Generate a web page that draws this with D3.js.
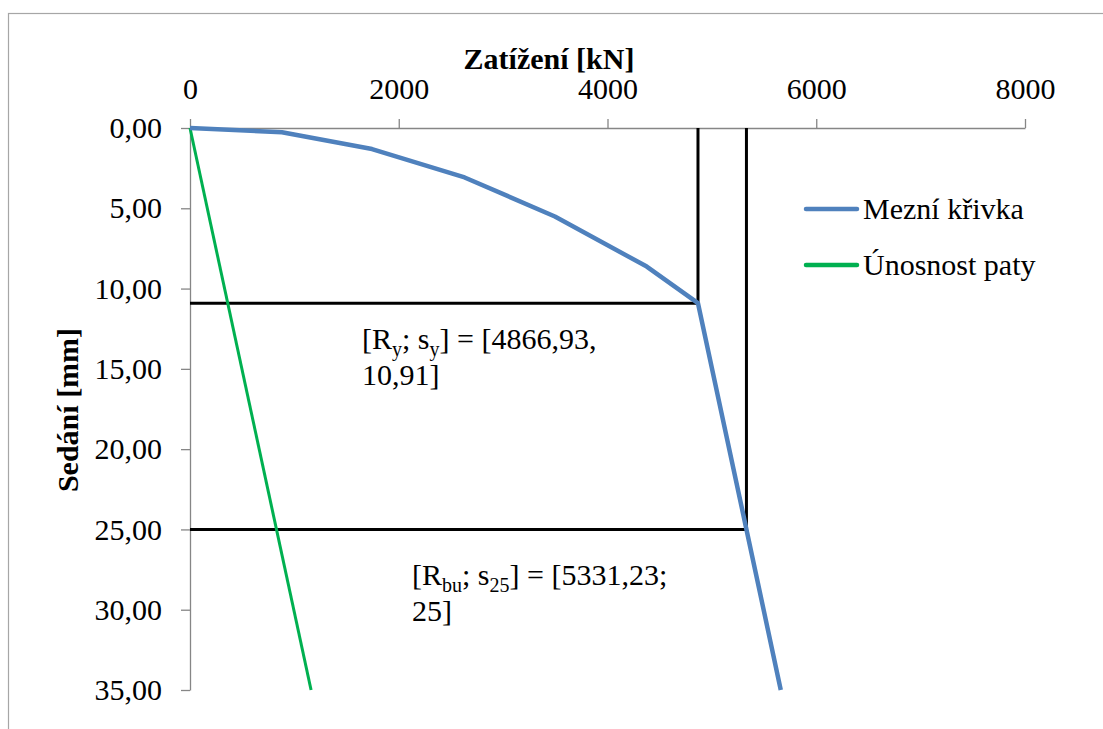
<!DOCTYPE html>
<html>
<head>
<meta charset="utf-8">
<script src="https://cdn.jsdelivr.net/npm/d3@7"></script>
</head>
<body style="margin:0; background:#fff">
<svg id="s" width="1103" height="729" style="font-family:'Times New Roman','Liberation Serif',Tinos,serif"></svg>
<script>
// Load–settlement data (load in kN, settlement in mm)
const mezniLoad   = [0, 881, 1744, 2631, 3496, 4376, 4866.93, 5331.23, 5660];
const mezniSettle = [0, 0.27, 1.31, 3.08, 5.51, 8.63, 10.91, 25, 35];
const pataLoad    = [0, 1160];
const pataSettle  = [0, 35];

// Characteristic points
const yieldPoint    = { R: 4866.93, s: 10.91 };
const ultimatePoint = { R: 5331.23, s: 25 };

const xTicks = [0, 2000, 4000, 6000, 8000];
const yTicks = [0, 5, 10, 15, 20, 25, 30, 35];

const seriesNames  = ["Mezní křivka", "Únosnost paty"];
const seriesColors = ["#4f81bd", "#00b050"];

const FONT = "'Times New Roman'";
const svg = d3.select("#s");

// helper: text element in the chart font
function label(parent, size, bold) {
  const t = parent.append("text")
    .style("font-family", FONT)
    .style("font-size", size + "px");
  if (bold) t.style("font-weight", "bold");
  return t;
}

// chart frame
svg.append("rect")
  .attr("x", 8.5).attr("y", 13.5)
  .attr("width", 1200).attr("height", 800)
  .attr("fill", "none").attr("stroke", "#a6a6a6").attr("stroke-width", 1.2);

const x = d3.scaleLinear().domain([0, 8000]).range([190, 1025]);
const y = d3.scaleLinear().domain([0, 35]).range([128, 690]);

const fmtY = v => d3.format(".2f")(v).replace(".", ",");

// top x axis
const gx = svg.append("g")
  .attr("transform", `translate(0,${y(0)})`)
  .call(d3.axisTop(x).tickValues(xTicks).tickSize(9).tickPadding(20).tickSizeOuter(0).tickFormat(d3.format("d")));

// left y axis (settlement grows downward)
const gy = svg.append("g")
  .attr("transform", `translate(${x(0)},0)`)
  .call(d3.axisLeft(y).tickValues(yTicks).tickSize(9).tickPadding(19).tickSizeOuter(0).tickFormat(fmtY));

[gx, gy].forEach(g => {
  g.attr("font-family", "Times New Roman").attr("font-size", 30);
  g.select(".domain").attr("stroke", "#868686").attr("stroke-width", 1.3);
  g.selectAll(".tick line").attr("stroke", "#868686").attr("stroke-width", 1.3);
  g.selectAll(".tick text")
    .style("font-family", FONT).style("font-size", "30px").attr("fill", "#000");
});

// axis titles
label(svg, 30, true)
  .attr("x", 549).attr("y", 69)
  .attr("text-anchor", "middle")
  .text("Zatížení [kN]");

label(svg, 30, true)
  .attr("transform", "translate(78,410) rotate(-90)")
  .attr("text-anchor", "middle")
  .text("Sedání [mm]");

// reference lines at the yield and ultimate points
const refLines = svg.append("g").attr("stroke", "#000").attr("stroke-width", 3).attr("fill", "none");
[yieldPoint, ultimatePoint].forEach(p => {
  refLines.append("line")
    .attr("x1", x(0)).attr("x2", x(p.R))
    .attr("y1", y(p.s)).attr("y2", y(p.s));
  refLines.append("line")
    .attr("x1", x(p.R)).attr("x2", x(p.R))
    .attr("y1", y(0)).attr("y2", y(p.s));
});

// series lines
const line = d3.line().x(d => x(d[0])).y(d => y(d[1]));

svg.append("path")
  .datum(pataLoad.map((v, i) => [v, pataSettle[i]]))
  .attr("d", line)
  .attr("fill", "none").attr("stroke", seriesColors[1]).attr("stroke-width", 3);

svg.append("path")
  .datum(mezniLoad.map((v, i) => [v, mezniSettle[i]]))
  .attr("d", line)
  .attr("fill", "none").attr("stroke", seriesColors[0]).attr("stroke-width", 4.5)
  .attr("stroke-linejoin", "round");

// data labels for the characteristic points
const fmtNum = v => String(v).replace(".", ",");

function pointLabel(px, py, mainSym, subSym, valueR, valueS, sep, lineGap) {
  const t = label(svg, 30).attr("x", px).attr("y", py);
  t.append("tspan").text("[R");
  t.append("tspan").style("font-size", "20px").attr("dy", 7).text(mainSym);
  t.append("tspan").attr("dy", -7).text("; s");
  t.append("tspan").style("font-size", "20px").attr("dy", 7).text(subSym);
  t.append("tspan").attr("dy", -7).text(`] = [${fmtNum(valueR)}${sep}`);
  label(svg, 30).attr("x", px).attr("y", py + lineGap)
    .text(`${fmtNum(valueS)}]`);
}
pointLabel(362, 349, "y", "y", yieldPoint.R, yieldPoint.s, ",", 36);
pointLabel(412, 585, "bu", "25", ultimatePoint.R, ultimatePoint.s, ";", 36);

// legend
const legend = svg.append("g");
seriesNames.forEach((name, i) => {
  const ly = 209 + i * 56;
  legend.append("line")
    .attr("x1", 806).attr("x2", 857)
    .attr("y1", ly).attr("y2", ly)
    .attr("stroke", seriesColors[i]).attr("stroke-width", 4.5)
    .attr("stroke-linecap", "round");
  label(legend, 30)
    .attr("x", 863).attr("y", ly + 10)
    .text(name);
});
</script>
</body>
</html>
